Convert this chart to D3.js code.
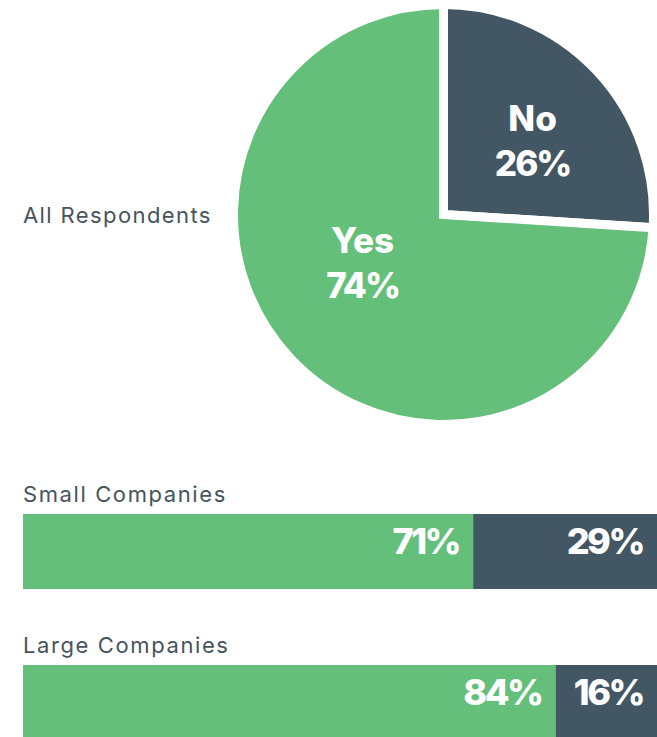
<!DOCTYPE html>
<html>
<head>
<meta charset="utf-8">
<script src="https://cdn.jsdelivr.net/npm/d3@7"></script>
<style>
  body { margin: 0; background: #fff; }
  svg text { font-family: Inter, "Open Sans", sans-serif; }
</style>
</head>
<body>
<div id="chart"></div>
<script>
// data
const pieTitle = "All Respondents"
const pieCategories = ["No", "Yes"]
const pieValues = [26, 74]

const barGroups = ["Small Companies", "Large Companies"]
const barYes = [71, 84]
const barNo = [29, 16]

const width = 657, height = 737
const green = "#64bf7a", slate = "#435664", labelColor = "#45545f"
const colors = { Yes: green, No: slate }

const svg = d3.select("#chart")
  .append("svg")
  .attr("width", width)
  .attr("height", height)

// ---- pie ----
const cx = 443.5, cy = 214.5, radius = 210
const gap = 9
// label placement: radius along the slice middle, plus a small nudge
const labelRadius = { No: 114, Yes: 100 }
const labelNudge = { No: [6, 5], Yes: [-8, -19] }

const pie = d3.pie().sort(null).value(d => d.value)
const arc = d3.arc().innerRadius(0).outerRadius(radius)

const pieData = pie(pieCategories.map((c, i) => ({ name: c, value: pieValues[i] })))

const pg = svg.append("g").attr("transform", "translate(" + cx + "," + cy + ")")

pg.selectAll("path")
  .data(pieData)
  .enter()
  .append("path")
  .attr("d", arc)
  .attr("fill", d => colors[d.data.name])
  .attr("stroke", "#fff")
  .attr("stroke-width", gap)
  .attr("stroke-linejoin", "miter")

const labels = pg.selectAll("text.slice")
  .data(pieData)
  .enter()
  .append("text")
  .attr("class", "slice")
  .attr("transform", d => {
    const r = labelRadius[d.data.name]
    const c = d3.arc().innerRadius(r).outerRadius(r).centroid(d)
    const n = labelNudge[d.data.name]
    return "translate(" + (c[0] + n[0]) + "," + (c[1] + n[1]) + ")"
  })
  .attr("text-anchor", "middle")
  .attr("fill", "#fff")
  .style("font-size", "35px")
  .style("font-weight", 800)

labels.append("tspan").attr("x", 0).attr("y", -10.5)
  .style("letter-spacing", "0px")
  .text(d => d.data.name)
labels.append("tspan").attr("x", 0).attr("y", 34.5)
  .style("letter-spacing", "-2px")
  .text(d => d.data.value + "%")

svg.append("text")
  .attr("x", 23)
  .attr("y", 223)
  .attr("fill", labelColor)
  .style("font-size", "22px")
  .style("font-weight", 400)
  .style("letter-spacing", "1.4px")
  .text(pieTitle)

// ---- stacked bars ----
const x = d3.scaleLinear().domain([0, 100]).range([23, width])
const y = d3.scaleBand()
  .domain(barGroups)
  .range([514, 740])
  .paddingInner(76 / 151)
  .paddingOuter(0)

const rows = barGroups.map((g, i) => ({ group: g, yes: barYes[i], no: barNo[i] }))
const stack = d3.stack().keys(["yes", "no"])(rows)
const keyName = { yes: "Yes", no: "No" }

const layers = svg.append("g")
  .selectAll("g")
  .data(stack)
  .enter()
  .append("g")
  .attr("fill", d => colors[keyName[d.key]])

layers.selectAll("rect")
  .data(d => d)
  .enter()
  .append("rect")
  .attr("x", d => x(d[0]))
  .attr("y", d => y(d.data.group))
  .attr("width", d => x(d[1]) - x(d[0]))
  .attr("height", y.bandwidth())

layers.selectAll("text")
  .data(d => d)
  .enter()
  .append("text")
  .attr("x", d => x(d[1]) - 14)
  .attr("y", d => y(d.data.group) + 39.5)
  .attr("text-anchor", "end")
  .attr("fill", "#fff")
  .style("font-size", "36px")
  .style("font-weight", 800)
  .style("letter-spacing", "-2.5px")
  .text(d => (d[1] - d[0]) + "%")

svg.append("g")
  .selectAll("text")
  .data(barGroups)
  .enter()
  .append("text")
  .attr("x", 23)
  .attr("y", d => y(d) - 12)
  .attr("fill", labelColor)
  .style("font-size", "22px")
  .style("letter-spacing", "1.6px")
  .text(d => d)
</script>
</body>
</html>
